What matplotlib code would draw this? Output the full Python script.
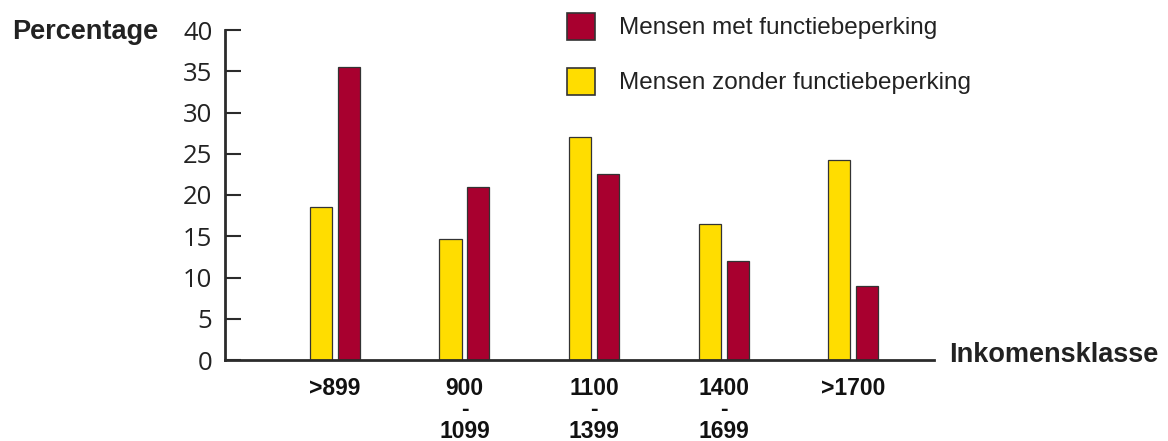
import matplotlib
matplotlib.use("Agg")
import matplotlib.pyplot as plt
from matplotlib.patches import Rectangle
import numpy as np

# ── Data ────────────────────────────────────────────────────
klassen = [">899", "900\n-\n1099", "1100\n-\n1399", "1400\n-\n1699", ">1700"]
zonder = [18.5, 14.7, 27.0, 16.5, 24.2]   # Mensen zonder functiebeperking
met = [35.5, 21.0, 22.5, 12.0, 9.0]       # Mensen met functiebeperking
yticks = [0, 5, 10, 15, 20, 25, 30, 35, 40]

RED = "#A8002F"
YELLOW = "#FFDD00"
EDGE = "#333333"
DARK = "#2b2b2b"

W, H = 1168, 441
fig = plt.figure(figsize=(W / 100, H / 100), dpi=100)
ax = fig.add_axes([225 / W, 1 - 360 / H, (934 - 225) / W, 330 / H])

x = np.arange(len(klassen))
bw, off = 0.17, 0.108
ax.bar(x - off, zonder, bw, color=YELLOW, edgecolor=EDGE, linewidth=0.9)
ax.bar(x + off, met, bw, color=RED, edgecolor=EDGE, linewidth=0.9)

ax.set_xlim(-0.849, 4.625)
ax.set_ylim(0, 40)
for s in ("top", "right"):
    ax.spines[s].set_visible(False)
for s in ("left", "bottom"):
    ax.spines[s].set_color(DARK)
    ax.spines[s].set_linewidth(2)

ax.set_yticks(yticks)
ax.set_yticklabels([str(v) for v in yticks], family="Open Sans", fontsize=18.5)
ax.tick_params(axis="y", direction="in", length=11.5, width=1.5,
               color=DARK, pad=9, labelcolor="#222222")

ax.set_xticks(x)
ax.set_xticklabels(klassen, family="Liberation Sans", fontweight="bold",
                   fontsize=16.5, linespacing=0.93, va="top", color="#111111")
ax.tick_params(axis="x", length=0, pad=12)

# axis titles
fig.text(12 / W, 1 - 32 / H, "Percentage", family="Liberation Sans",
         fontweight="bold", fontsize=19.5, va="center", ha="left",
         color="#222222")
fig.text(949 / W, 1 - 355 / H, "Inkomensklasse", family="Liberation Sans",
         fontweight="bold", fontsize=19.5, va="center", ha="left",
         color="#222222")

# ── Legend (drawn by hand) ─────────────────────────────────
legend = [("Mensen met functiebeperking", RED, 13),
          ("Mensen zonder functiebeperking", YELLOW, 68)]
for label, col, top in legend:
    fig.patches.append(Rectangle((567 / W, 1 - (top + 27) / H), 28 / W, 27 / H,
                                 transform=fig.transFigure, facecolor=col,
                                 edgecolor=EDGE, linewidth=1.2))
    fig.text(619 / W, 1 - (top + 15) / H, label, family="Liberation Sans",
             fontsize=17.5, va="center", ha="left", color="#222222")

fig.savefig("out.png", dpi=100)
